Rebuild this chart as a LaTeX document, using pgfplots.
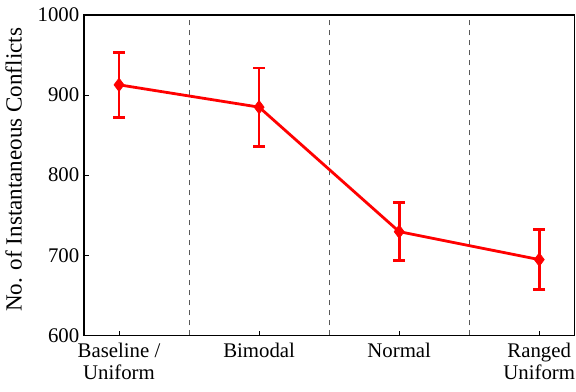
\documentclass[border=0pt]{standalone}
\usepackage{fontspec}
\setmainfont{Liberation Serif}
\usepackage{pgfplots}
\pgfplotsset{compat=1.18}
\begin{document}
\begin{tikzpicture}
\begin{axis}[
  name=ax,
  scale only axis, width=367.7pt, height=240.2pt,
  xmin=-0.25, xmax=3.25, ymin=600, ymax=1000,
  xtick={0,1,2,3},
  xticklabels={{Baseline /\\Uniform},{Bimodal},{Normal},{Ranged\\Uniform}},
  xticklabel style={align=center, font=\fontsize{15.6}{17}\selectfont, yshift=-2pt},
  ytick={600,700,800,900,1000},
  yticklabel style={font=\fontsize{15.6}{16}\selectfont},
  /pgf/number format/assume math mode=true,
  /pgf/number format/1000 sep={},
  tick align=inside, major tick length=3.5pt,
  xtick pos=bottom, ytick pos=left,
  tick style={black, line width=0.6pt},
  axis line style={line width=0.9pt},
  ylabel={No. of Instantaneous Conflicts},
  ylabel style={font=\fontsize{17.3}{18}\selectfont, yshift=5pt, xshift=4pt},
  clip=false,
]
\addplot[gray!70!black, line width=0.7pt, dash pattern=on 3.75pt off 3.75pt] coordinates {(0.5,600) (0.5,994)};
\addplot[gray!70!black, line width=0.7pt, dash pattern=on 3.75pt off 3.75pt] coordinates {(1.5,600) (1.5,994)};
\addplot[gray!70!black, line width=0.7pt, dash pattern=on 3.75pt off 3.75pt] coordinates {(2.5,600) (2.5,994)};
\addplot[red, line width=2.1pt, mark=diamond*, mark size=5pt, mark options={solid, fill=red, line width=0.5pt},
  error bars/.cd, y dir=both, y explicit,
  error mark options={rotate=90, mark size=4.5pt, line width=2.1pt, red},
  error bar style={line width=2.1pt, red}]
coordinates {
  (0,912.8) +- (0,40.6)
  (1,884.9) +- (0,48.9)
  (2,729.4) +- (0,36.2)
  (3,694.5) +- (0,37.1)
};
\end{axis}
\pgfresetboundingbox
\useasboundingbox ([shift={(-63pt,-42pt)}]ax.south west) rectangle ([shift={(1.3pt,11.25pt)}]ax.north east);
\end{tikzpicture}
\end{document}
